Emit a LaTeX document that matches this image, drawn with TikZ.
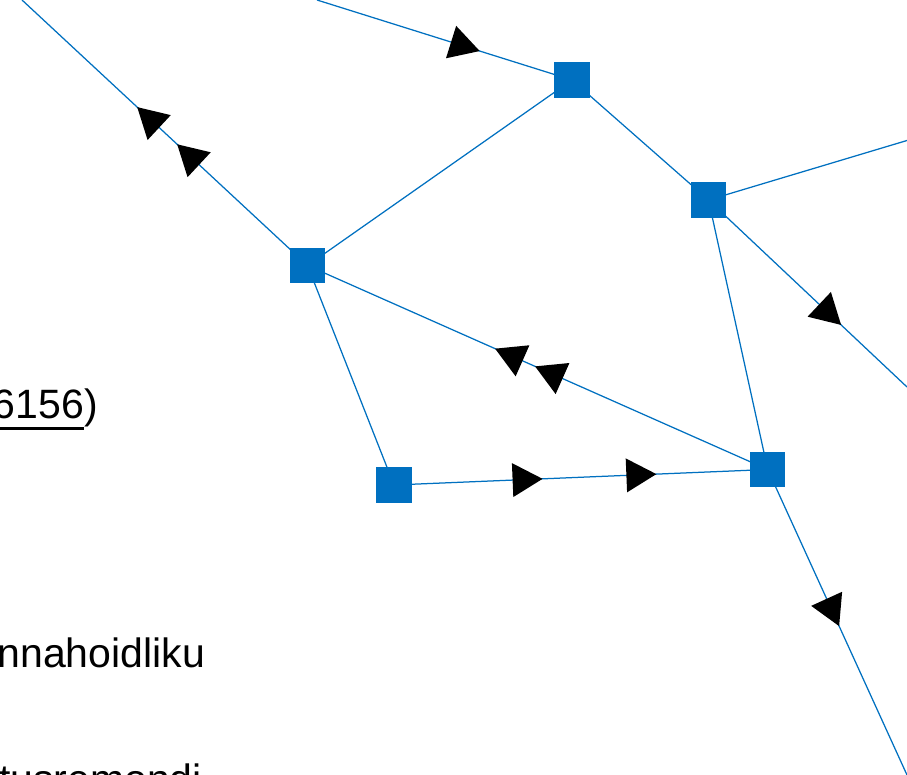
\documentclass[tikz,border=0pt]{standalone}
\usepackage{fontspec}
\setmainfont{Liberation Sans}
\usetikzlibrary{decorations.markings}
\definecolor{netblue}{HTML}{0070C0}
\tikzset{
  sq/.style={fill=netblue, draw=none, minimum size=35.5pt, inner sep=0pt, outer sep=0pt},
  edge/.style={draw=netblue, line width=1.25pt},
  arr/.style={postaction={decorate, decoration={markings,
      mark=at position #1 with {\fill[black] (15pt,0pt) -- (-15pt,17pt) -- (-15pt,-17pt) -- cycle;}}}},
  txt/.style={inner sep=0pt, outer sep=0pt, font=\fontsize{41}{49}\selectfont}
}
\begin{document}
\begin{tikzpicture}[x=1pt, y=-1pt]
\useasboundingbox (0,0) rectangle (907,775);
% free ends
\coordinate (t0) at (317,0);
\coordinate (tl) at (22,0);
\coordinate (cr1) at (907,140.5);
\coordinate (cr2) at (907,387);
\coordinate (bot) at (907,775);
% nodes
\node[sq] (A) at (307.5,265.5) {};
\node[sq] (B) at (572,80) {};
\node[sq] (C) at (708.5,200) {};
\node[sq] (D) at (767.7,469.5) {};
\node[sq] (E) at (394,485) {};
% edges
\path[edge, arr=0.582] (t0) -- (B.center);
\path[edge, arr=0.418, arr=0.558] (A.center) -- (tl);
\path[edge] (A.center) -- (B.center);
\path[edge] (B.center) -- (C.center);
\path[edge] (C.center) -- (cr1);
\path[edge, arr=0.613] (C.center) -- (cr2);
\path[edge] (C.center) -- (D.center);
\path[edge, arr=0.4757, arr=0.5626] (D.center) -- (A.center);
\path[edge] (A.center) -- (E.center);
\path[edge, arr=0.3575, arr=0.662] (E.center) -- (D.center);
\path[edge, arr=0.468] (D.center) -- (bot);
% text
\node[txt, anchor=base east] (t1) at (84,418) {6156};
\node[txt, anchor=base west] (t2) at (t1.base east) {)};
\fill ([yshift=-8.5pt]t1.base west) rectangle ([yshift=-11.5pt]t1.base east);
\node[txt, anchor=base west] (t3) at (-2.5,667) {nnahoidliku};
\node[txt, anchor=base west] (t4) at (-1,793) {tusremondi};
\end{tikzpicture}
\end{document}
